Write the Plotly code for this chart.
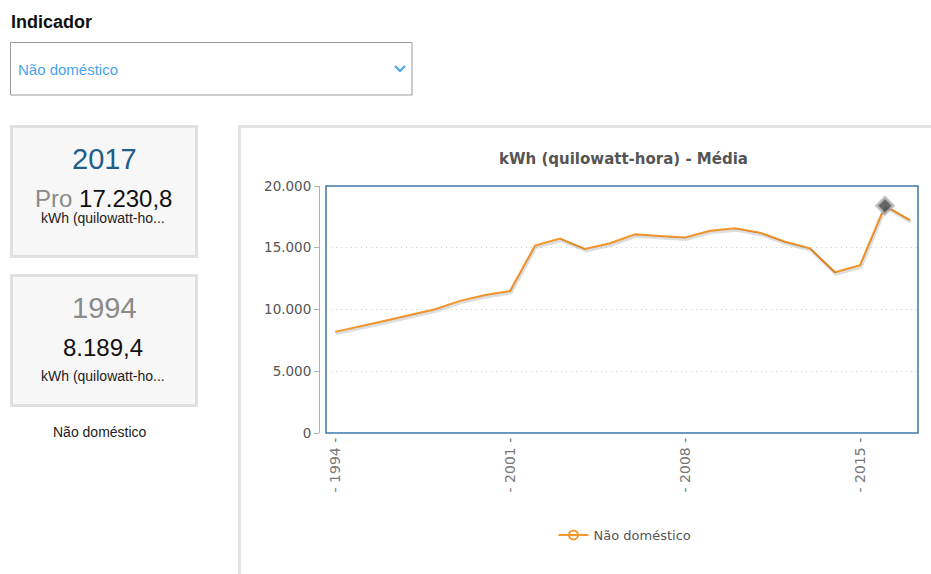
import plotly.graph_objects as go

W, H = 931, 574

years = list(range(1994, 2018))
values = [8189.4, 8610, 9090, 9550, 10020, 10700, 11170, 11500,
          15170, 15740, 14900, 15360, 16090, 15950, 15840, 16380,
          16570, 16220, 15490, 14950, 13010, 13580, 18400, 17230.8]
series_name = "Não doméstico"
chart_title = "kWh (quilowatt-hora) - Média"
y_ticks = [0, 5000, 10000, 15000, 20000]
tick_step = 7


def px(x):
    return x / W


def py(y):
    return 1 - y / H


# plot area in pixels
PL, PR, PT, PB = 326, 918, 186, 433

fig = go.Figure()

# soft shadow (same data, on shifted overlay axes)
fig.add_trace(go.Scatter(x=years, y=values, mode="lines", xaxis="x2", yaxis="y2",
                         line=dict(color="rgba(0,0,0,0.13)", width=3),
                         hoverinfo="skip", showlegend=False))
# main line
fig.add_trace(go.Scatter(x=years, y=values, mode="lines", name=series_name,
                         line=dict(color="#f7962b", width=2), showlegend=False))
# highlighted point (maximum)
imax = max(range(len(values)), key=lambda i: values[i])
fig.add_trace(go.Scatter(x=[years[imax]], y=[values[imax]], mode="markers",
                         marker=dict(symbol="diamond", size=13, color="#666666",
                                     line=dict(color="rgba(190,190,190,0.8)", width=3)),
                         showlegend=False, hoverinfo="skip"))
# legend entry
fig.add_trace(go.Scatter(x=[None], y=[None], mode="lines+markers", name=series_name,
                         line=dict(color="#f7962b", width=2),
                         marker=dict(symbol="circle-open", size=9, color="#f7962b",
                                     line=dict(width=2)),
                         showlegend=True))

x0 = years[0] - (335 - PL) / 25.0
x1 = x0 + (PR - PL) / 25.0
ymax = y_ticks[-1]
off = 2 * ymax / (PB - PT)

tickyears = years[::tick_step]
fig.update_layout(
    width=W, height=H, margin=dict(l=0, r=0, t=0, b=0, autoexpand=False),
    paper_bgcolor="white", plot_bgcolor="white",
    separators=",.",
    xaxis=dict(domain=[px(PL), px(PR)], range=[x0, x1], showgrid=False, zeroline=False,
               showline=False, tickvals=tickyears,
               ticktext=[f"-\u00a0{y}\u00a0-" for y in tickyears],
               tickangle=-90, ticks="", automargin=False, ticklabelstandoff=1,
               tickfont=dict(family="DejaVu Sans", size=14, color="#777")),
    yaxis=dict(domain=[py(PB), py(PT)], range=[0, ymax], anchor="free", position=px(319),
               tickvals=y_ticks, tickformat=",d", showline=True, linecolor="#b0b0b0",
               linewidth=1, ticks="outside", ticklen=5, tickcolor="#b0b0b0",
               showgrid=True, gridcolor="#cfcfcf", griddash="1px,4px", zeroline=False,
               automargin=False,
               tickfont=dict(family="DejaVu Sans", size=13.5, color="#555")),
    xaxis2=dict(domain=[px(PL), px(PR)], range=[x0 - 0.04, x1 - 0.04], overlaying="x",
                visible=False),
    yaxis2=dict(domain=[py(PB), py(PT)], range=[off, ymax + off], overlaying="y",
                visible=False, anchor="x2"),
    legend=dict(orientation="h", x=px(625), xanchor="center", y=py(535), yanchor="middle",
                itemwidth=30,
                font=dict(family="DejaVu Sans", size=13, color="#555"),
                bgcolor="rgba(0,0,0,0)"),
    showlegend=True,
)

shapes = []
# chart panel border (left + top)
shapes.append(dict(type="line", xref="paper", yref="paper", x0=px(239.5), x1=px(239.5),
                   y0=py(126), y1=py(574), line=dict(color="#e2e2e2", width=3)))
shapes.append(dict(type="line", xref="paper", yref="paper", x0=px(238), x1=px(931),
                   y0=py(126.5), y1=py(126.5), line=dict(color="#e2e2e2", width=3)))
# plot border
shapes.append(dict(type="rect", xref="paper", yref="paper", x0=px(PL), x1=px(PR),
                   y0=py(PB), y1=py(PT), line=dict(color="#3d78ab", width=1.5)))
# dropdown
shapes.append(dict(type="rect", xref="paper", yref="paper", x0=px(10.5), x1=px(412),
                   y0=py(95), y1=py(42.5), line=dict(color="#9a9a9a", width=1),
                   fillcolor="white"))
shapes.append(dict(type="path", xref="paper", yref="paper",
                   path=f"M {px(395)} {py(66)} L {px(400)} {py(71)} L {px(405)} {py(66)}",
                   line=dict(color="#4aa3ea", width=2)))
# cards
for (top, bot) in [(126.5, 256.5), (275.5, 405.5)]:
    shapes.append(dict(type="rect", xref="paper", yref="paper", x0=px(11.5), x1=px(196.5),
                       y0=py(bot), y1=py(top), line=dict(color="#e0e0e0", width=3),
                       fillcolor="#f7f7f7", layer="below"))
fig.update_layout(shapes=shapes)

ann = []


def text(x, y, s, size, color, family="Liberation Sans", xanchor="center", bold=False):
    if bold:
        s = f"<b>{s}</b>"
    ann.append(dict(x=px(x), y=py(y), xref="paper", yref="paper", text=s, showarrow=False,
                    xanchor=xanchor, yanchor="middle",
                    font=dict(family=family, size=size, color=color)))


text(9, 22, "Indicador", 18, "#111", xanchor="left", bold=True)
text(16, 69, series_name, 15, "#4aa3ea", xanchor="left")
text(104, 159, str(years[-1]), 29, "#1e5d8c")
text(103, 198, f"<span style='color:#8a8a8a'>Pro</span> 17.230,8", 24, "#111")
text(103, 218, "kWh (quilowatt-ho...", 14, "#222")
text(104, 308, str(years[0]), 29, "#8a8a8a")
text(103, 347, "8.189,4", 24, "#111")
text(103, 376, "kWh (quilowatt-ho...", 14, "#222")
text(100, 432, series_name, 14, "#222")
text(623, 159, chart_title, 15, "#555", family="DejaVu Sans", bold=True)
fig.update_layout(annotations=ann)

fig.write_html("out.html", config={"displayModeBar": False},
               post_script="document.body.style.margin='0';")
